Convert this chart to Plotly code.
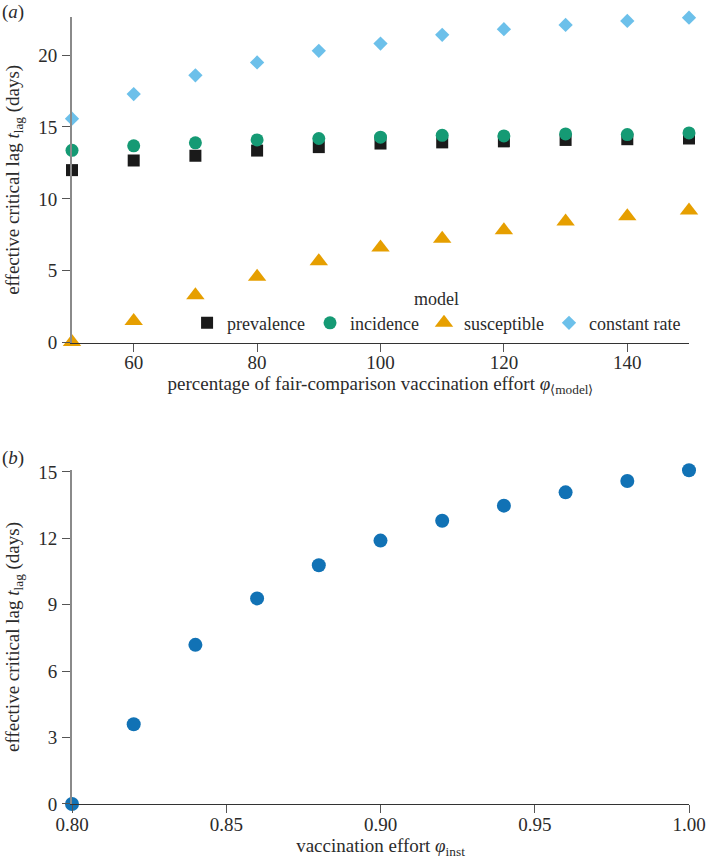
import plotly.graph_objects as go

# ---- data: panel (a) ----
effort_pct = [50, 60, 70, 80, 90, 100, 110, 120, 130, 140, 150]
prevalence = [12.0, 12.67, 13.0, 13.36, 13.6, 13.85, 13.93, 14.0, 14.1, 14.15, 14.2]
incidence = [13.38, 13.69, 13.9, 14.1, 14.2, 14.29, 14.42, 14.38, 14.52, 14.47, 14.59]
susceptible = [0.05, 1.5, 3.29, 4.58, 5.67, 6.62, 7.22, 7.82, 8.42, 8.79, 9.2]
constant_rate = [15.58, 17.29, 18.59, 19.49, 20.3, 20.8, 21.41, 21.8, 22.1, 22.38, 22.6]

x_ticks_a = [60, 80, 100, 120, 140]
y_ticks_a = [0, 5, 10, 15, 20]

# ---- data: panel (b) ----
effort_inst = [0.80, 0.82, 0.84, 0.86, 0.88, 0.90, 0.92, 0.94, 0.96, 0.98, 1.00]
lag_inst = [0.0, 3.6, 7.19, 9.29, 10.79, 11.9, 12.8, 13.48, 14.08, 14.59, 15.08]

x_ticks_b = [0.80, 0.85, 0.90, 0.95, 1.00]
x_ticklabels_b = ["0.80", "0.85", "0.90", "0.95", "1.00"]
y_ticks_b = [0, 3, 6, 9, 12, 15]

FONT = "Liberation Serif"
TXT = "#2b2b2b"

fig = go.Figure()

series = [
    ("prevalence", prevalence, "square", 12, "#1a1a1a"),
    ("incidence", incidence, "circle", 13, "#159a74"),
    ("susceptible", susceptible, "triangle-up", 16, "#E69F00"),
    ("constant rate", constant_rate, "diamond", 11, "#6cc0ea"),
]
for name, vals, sym, size, col in series:
    fig.add_trace(go.Scatter(
        x=effort_pct, y=vals, mode="markers", name=name,
        marker=dict(symbol=sym, size=size, color=col, line=dict(width=0)),
        cliponaxis=False, xaxis="x", yaxis="y",
    ))

fig.add_trace(go.Scatter(
    x=effort_inst, y=lag_inst, mode="markers", name="inst",
    marker=dict(symbol="circle", size=14, color="#1172b5", line=dict(width=0)),
    cliponaxis=False, showlegend=False, xaxis="x2", yaxis="y2",
))

yaxis_common = dict(
    showline=True, linecolor="#8a8a8a", linewidth=2,
    ticks="outside", ticklen=8, tickcolor="#555555", tickwidth=1,
    showgrid=False, zeroline=False, automargin=False, ticklabelstandoff=1,
    tickfont=dict(family=FONT, size=19, color=TXT),
)
xaxis_common = dict(
    showline=True, linecolor="#333333", linewidth=1,
    ticks="outside", ticklen=8, tickcolor="#555555", tickwidth=1,
    showgrid=False, zeroline=False, automargin=False, ticklabelstandoff=-5,
    tickfont=dict(family=FONT, size=19, color=TXT),
)

ytitle = "effective critical lag <i>t</i><sub>lag</sub> (days)"

fig.update_layout(
    width=706, height=866,
    margin=dict(l=72, r=17, t=17, b=62),
    paper_bgcolor="white", plot_bgcolor="white",
    font=dict(family=FONT, size=18, color=TXT),
    xaxis=dict(
        domain=[0, 1], anchor="y", range=[50, 150],
        tickvals=x_ticks_a,
        title=dict(text="percentage of fair-comparison vaccination effort <i>φ</i><sub>⟨model⟩</sub>",
                   font=dict(family=FONT, size=19, color=TXT), standoff=2),
        **xaxis_common,
    ),
    yaxis=dict(
        domain=[0.5862, 1], anchor="x", range=[0, 22.65],
        tickvals=y_ticks_a,
        title=dict(text=ytitle, font=dict(family=FONT, size=19, color=TXT), standoff=14),
        **yaxis_common,
    ),
    xaxis2=dict(
        domain=[0, 1], anchor="y2", range=[0.80, 1.00],
        tickvals=x_ticks_b, ticktext=x_ticklabels_b,
        title=dict(text="vaccination effort <i>φ</i><sub>inst</sub>",
                   font=dict(family=FONT, size=19, color=TXT), standoff=2),
        **xaxis_common,
    ),
    yaxis2=dict(
        domain=[0, 0.4244], anchor="x2", range=[0, 15.09],
        tickvals=y_ticks_b,
        title=dict(text=ytitle, font=dict(family=FONT, size=19, color=TXT), standoff=14),
        **yaxis_common,
    ),
    legend=dict(
        orientation="h",
        title=dict(text="model", side="top center", font=dict(family=FONT, size=18, color=TXT)),
        x=0.1865, xanchor="left", y=0.588, yanchor="bottom",
        bgcolor="rgba(0,0,0,0)", font=dict(family=FONT, size=18, color=TXT),
        itemwidth=30, tracegroupgap=0,
    ),
)

plot_h = 866 - 17 - 62
plot_w = 706 - 72 - 17
fig.add_annotation(text="(<i>a</i>)", x=(0 - 72) / plot_w, xanchor="left",
                   y=(804 - 12) / plot_h, yanchor="middle", xref="paper", yref="paper",
                   showarrow=False, font=dict(family=FONT, size=19, color=TXT))
fig.add_annotation(text="(<i>b</i>)", x=(0 - 72) / plot_w, xanchor="left",
                   y=(804 - 458) / plot_h, yanchor="middle", xref="paper", yref="paper",
                   showarrow=False, font=dict(family=FONT, size=19, color=TXT))

fig.write_html("out.html", config={"displayModeBar": False},
               post_script="document.body.style.margin='0';")
